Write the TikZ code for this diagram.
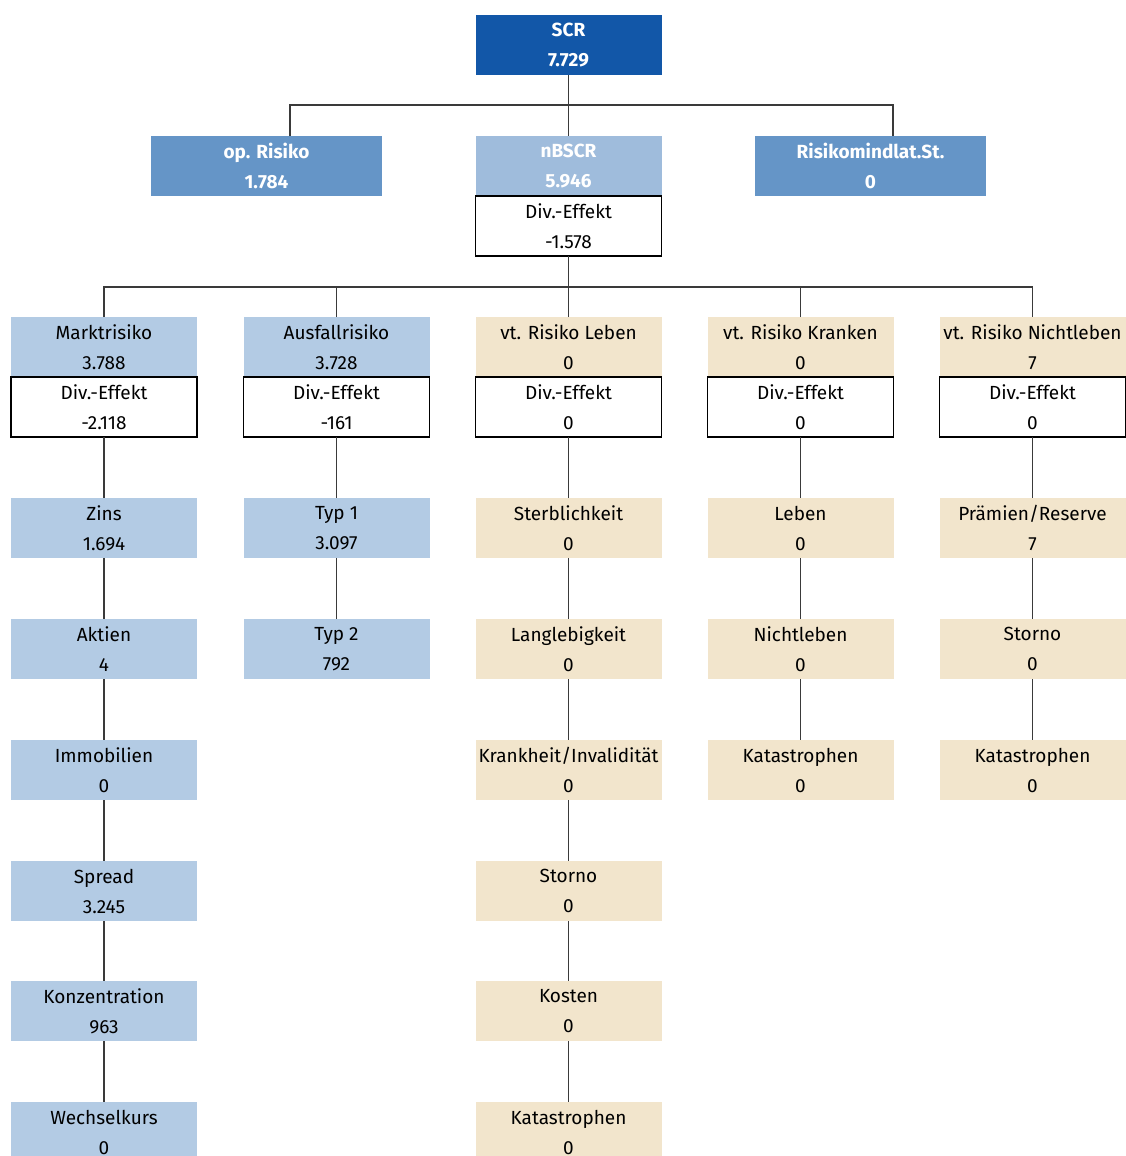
\documentclass[tikz,border=0pt]{standalone}
\usepackage{fontspec}
\setmainfont{Fira Sans}
\definecolor{scrc}{HTML}{1257A8}
\definecolor{midblue}{HTML}{6595C7}
\definecolor{nbc}{HTML}{9FBCDC}
\definecolor{lblue}{HTML}{B3CBE4}
\definecolor{beigec}{HTML}{F2E5CC}
\definecolor{linec}{HTML}{3A3A3A}
\tikzset{
  every node/.style={inner sep=0pt, outer sep=0pt, align=center, anchor=north,
    font=\fontsize{19}{30}\selectfont},
  cellbox/.style={minimum width=186pt, minimum height=60pt},
  widebox/.style={minimum width=231pt, minimum height=60pt},
  topbox/.style={text=white, font=\fontsize{19}{30}\selectfont\bfseries},
  bluebox/.style={cellbox, fill=lblue},
  beigebox/.style={cellbox, fill=beigec},
  divbox/.style={cellbox, draw=black, line width=1.2pt, fill=white},
  conn/.style={draw=linec, line width=1.2pt}
}
\begin{document}
\begin{tikzpicture}[x=1pt,y=-1pt]
\clip (0,0) rectangle (1126,1156);
\fill[white] (0,0) rectangle (1126,1156);
% top
\node[cellbox, topbox, fill=scrc] (scr) at (568.5,15) {SCR\\7.729};
\node[widebox, topbox, fill=midblue] (op) at (266.5,136) {op. Risiko\\1.784};
\node[cellbox, topbox, fill=nbc] (nb) at (568.5,136) {nBSCR\\5.946};
\node[divbox] (nbd) at (568.5,196) {Div.-Effekt\\-1.578};
\node[widebox, topbox, fill=midblue] (rm) at (870.5,136) {Risikomindlat.St.\\0};
\coordinate (j1) at (568.5,105);
\coordinate (j2) at (568.5,287);
% column 1
\node[bluebox] (mr) at (104,317) {Marktrisiko\\3.788};
\node[divbox] (mrd) at (104,377) {Div.-Effekt\\-2.118};
\node[bluebox] (zins) at (104,498) {Zins\\1.694};
\node[bluebox] (aktien) at (104,619) {Aktien\\4};
\node[bluebox] (immo) at (104,740) {Immobilien\\0};
\node[bluebox] (spread) at (104,861) {Spread\\3.245};
\node[bluebox] (konz) at (104,981) {Konzentration\\963};
\node[bluebox] (wk) at (104,1102) {Wechselkurs\\0};
% column 2
\node[bluebox] (af) at (336.5,317) {Ausfallrisiko\\3.728};
\node[divbox] (afd) at (336.5,377) {Div.-Effekt\\-161};
\node[bluebox] (typa) at (336.5,498) {Typ 1\\3.097};
\node[bluebox] (typb) at (336.5,619) {Typ 2\\792};
% column 3
\node[beigebox] (vl) at (568.5,317) {vt. Risiko Leben\\0};
\node[divbox] (vld) at (568.5,377) {Div.-Effekt\\0};
\node[beigebox] (sterb) at (568.5,498) {Sterblichkeit\\0};
\node[beigebox] (lang) at (568.5,619) {Langlebigkeit\\0};
\node[beigebox] (krank) at (568.5,740) {Krankheit/Invalidität\\0};
\node[beigebox] (storno) at (568.5,861) {Storno\\0};
\node[beigebox] (kosten) at (568.5,981) {Kosten\\0};
\node[beigebox] (kata) at (568.5,1102) {Katastrophen\\0};
% column 4
\node[beigebox] (vk) at (800.5,317) {vt. Risiko Kranken\\0};
\node[divbox] (vkd) at (800.5,377) {Div.-Effekt\\0};
\node[beigebox] (leben) at (800.5,498) {Leben\\0};
\node[beigebox] (nleben) at (800.5,619) {Nichtleben\\0};
\node[beigebox] (katb) at (800.5,740) {Katastrophen\\0};
% column 5
\node[beigebox] (vn) at (1032.5,317) {vt. Risiko Nichtleben\\7};
\node[divbox] (vnd) at (1032.5,377) {Div.-Effekt\\0};
\node[beigebox] (praem) at (1032.5,498) {Prämien/Reserve\\7};
\node[beigebox] (stornob) at (1032.5,619) {Storno\\0};
\node[beigebox] (katc) at (1032.5,740) {Katastrophen\\0};
% connectors top
\draw[conn] (scr.south) -- (nb.north);
\draw[conn] ([xshift=23.5pt]op.north) |- (j1) -| ([xshift=22.5pt]rm.north);
% connectors level 2
\draw[conn] (nbd.south) -- (j2);
\draw[conn] (mr.north) |- (j2) -| (vn.north);
\draw[conn] (af.north) -- (af.north |- j2);
\draw[conn] (vl.north) -- (j2);
\draw[conn] (vk.north) -- (vk.north |- j2);
% chains
\draw[conn] (mrd) -- (zins) -- (aktien) -- (immo) -- (spread) -- (konz) -- (wk);
\draw[conn] (afd) -- (typa) -- (typb);
\draw[conn] (vld) -- (sterb) -- (lang) -- (krank) -- (storno) -- (kosten) -- (kata);
\draw[conn] (vkd) -- (leben) -- (nleben) -- (katb);
\draw[conn] (vnd) -- (praem) -- (stornob) -- (katc);
\end{tikzpicture}
\end{document}
